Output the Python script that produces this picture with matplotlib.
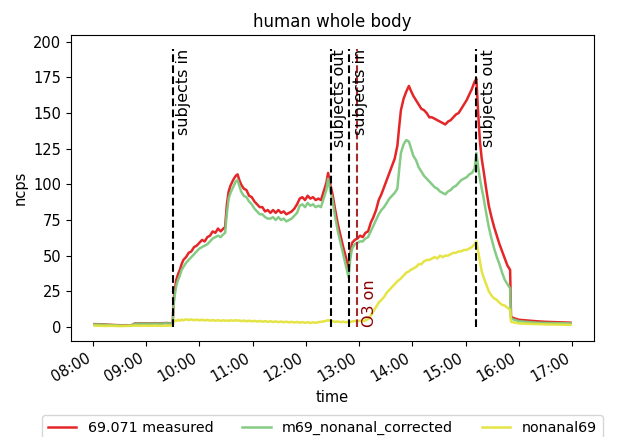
import numpy as np
import pandas as pd
import matplotlib
matplotlib.use('Agg')
import matplotlib.pyplot as plt
import matplotlib.dates as mdates

# minutes after 08:00
minutes = [2, 8, 14, 20, 26, 32, 38, 44, 47, 52, 58, 64, 70, 76, 82, 88, 90,
           91, 92, 94, 96, 98, 100, 102, 105, 108, 111, 114, 117, 120, 123, 126, 129,
           132, 135, 138, 141, 144, 147, 149,
           151, 153, 155, 158, 161, 163, 165, 167, 170, 173, 176, 179, 182, 185, 188,
           191, 194, 197, 200, 203, 206, 209, 212, 215, 218, 221, 224, 227, 230, 233,
           236, 239, 242, 245, 248, 251, 254, 257, 260, 263, 265, 267, 270, 273, 276,
           279, 282, 285, 288, 290, 292, 295, 298, 301, 304, 307, 310, 313, 316, 319,
           322, 325, 328, 331, 334, 337, 340, 343, 345, 347, 350, 353, 356, 358, 361,
           364, 367, 370, 373, 376, 379, 382, 385, 388, 391, 394, 397, 400, 403, 406,
           409, 412, 415, 418, 421, 424, 427, 430, 432, 434, 436, 438, 440, 443, 446,
           449, 452, 455, 458, 461, 464, 467, 470, 471, 475, 480, 490, 500, 510, 520,
           530, 538]

measured = [2.0, 1.9, 1.7, 1.5, 1.3, 1.2, 1.1, 1.3, 2.4, 2.5, 2.6, 2.4, 2.7, 2.5, 2.8, 2.6, 3.0,
            18, 25, 33, 37, 40, 44, 47, 49, 52, 53, 56, 57, 59, 61, 60, 63,
            64, 67, 66, 69, 67, 69, 70,
            86, 95, 99, 103, 106, 107, 103, 100, 97, 96, 92, 91, 88, 86, 84,
            84, 81, 82, 80, 82, 80, 82, 80, 81, 79, 80, 81, 83, 86, 90,
            91, 89, 92, 90, 91, 89, 90, 89, 95, 101, 108, 101, 93, 82, 72,
            64, 56, 49, 41, 52, 59, 61, 62, 64, 63, 66, 67, 73, 77, 82,
            89, 93, 98, 103, 108, 113, 118, 127, 140, 152, 160, 165, 169, 166, 162,
            159, 156, 153, 152, 150, 147, 147, 146, 145, 144, 143, 142, 144, 145, 147,
            149, 150, 153, 156, 159, 163, 167, 172, 174, 150, 130, 118, 110, 97, 85,
            77, 70, 64, 58, 53, 48, 43, 40, 7, 6, 5, 4.5, 4, 3.6, 3.4,
            3.2, 3.0]

corrected = [1.8, 1.7, 1.5, 1.3, 1.1, 1.0, 0.9, 1.1, 2.2, 2.3, 2.4, 2.2, 2.5, 2.3, 2.6, 2.4, 2.8,
             15, 21, 29, 33, 36, 40, 42, 45, 47, 49, 51, 53, 55, 56, 57, 58,
             60, 62, 63, 64, 63, 65, 66,
             80, 90, 94, 98, 102, 103, 99, 95, 92, 91, 88, 86, 83, 81, 79,
             79, 77, 76, 76, 77, 75, 77, 75, 76, 74, 75, 76, 78, 80, 85,
             86, 84, 87, 85, 86, 84, 85, 84, 90, 96, 104, 97, 89, 77, 67,
             59, 51, 43, 35, 48, 55, 58, 59, 60, 60, 62, 63, 67, 71, 75,
             79, 82, 84, 87, 90, 92, 94, 97, 110, 122, 128, 131, 130, 126, 120,
             117, 112, 109, 106, 104, 102, 100, 98, 97, 95, 94, 93, 95, 96, 98,
             99, 101, 103, 104, 105, 107, 108, 111, 122, 112, 104, 97, 91, 80, 70,
             62, 55, 49, 44, 38, 33, 30, 27, 6, 5, 4, 3.5, 3, 2.8, 2.7,
             2.6, 2.5]

nonanal = [0.9, 0.8, 0.7, 0.8, 0.7, 0.6, 0.7, 0.8, 0.9, 0.8, 0.9, 0.8, 0.9, 0.8, 0.9, 1.0, 1.0,
           4.0, 4.6, 4.2, 5.0, 4.4, 5.2, 4.6, 5.4, 4.8, 5.3, 4.7, 5.2, 4.6, 5.1, 4.5, 5.0,
           4.4, 4.9, 4.3, 4.8, 4.2, 4.7, 4.3,
           4.6, 4.2, 4.7, 4.3, 4.8, 4.4, 4.6, 4.1, 4.5, 4.0, 4.4, 3.9, 4.3, 3.8, 4.2,
           3.7, 4.1, 3.6, 4.0, 3.5, 3.9, 3.4, 3.8, 3.3, 3.7, 3.2, 3.6, 3.1, 3.5, 3.0,
           3.4, 2.9, 3.3, 2.8, 3.3, 2.9, 3.4, 3.6, 3.9, 4.3, 4.8, 4.4, 4.0, 3.6, 3.8,
           3.4, 3.7, 3.3, 3.6, 3.4, 3.8, 4.2, 3.9, 4.4, 4.0, 4.6, 5.5, 8, 11, 14,
           17, 19, 21, 24, 26, 28, 30, 32, 33, 34, 36, 38, 39, 40, 41,
           42, 44, 44, 46, 47, 47, 48, 49, 48, 50, 49, 50, 50, 51, 52,
           52, 53, 53, 54, 54, 55, 56, 58, 60, 53, 46, 39, 35, 30, 25,
           22, 20, 19, 17, 15.5, 15, 13.5, 12, 3.7, 3.0, 2.5, 2.2, 2.0, 1.8, 1.7,
           1.6, 1.5]

event_times = ['09:30', '12:28', '12:48', '15:12']
event_labels = ['subjects in', 'subjects out', 'subjects in', 'subjects out']
ozone_time = '12:58'
ozone_label = 'O3 on'


def to_datetime(hhmm):
    return pd.Timestamp('2023-01-01 ' + hhmm)


def plot_data():
    t0 = pd.Timestamp('2023-01-01 08:00')
    times = [t0 + pd.Timedelta(minutes=m) for m in minutes]

    plt.rcParams['font.size'] = 10.5
    fig, ax = plt.subplots(figsize=(6.21, 4.37), dpi=100)
    fig.subplots_adjust(left=0.114, right=0.957, top=0.92, bottom=0.22)

    ax.plot(times, measured, color='#e41a1c', lw=1.8, alpha=0.95, label='69.071 measured')
    ax.plot(times, corrected, color='#7fc97f', lw=1.8, alpha=0.95, label='m69_nonanal_corrected')
    ax.plot(times, nonanal, color='#e3e33c', lw=1.8, alpha=0.95, label='nonanal69')

    offsets = [4, 1, 5, 5]
    for t, lab, off in zip(event_times, event_labels, offsets):
        x = to_datetime(t)
        ax.vlines(x, 0, 195, colors='black', linestyles='--', lw=1.5)
        ax.text(x + pd.Timedelta(minutes=off), 195, lab, rotation=90,
                ha='left', va='top', fontsize=11.5)

    x = to_datetime(ozone_time)
    ax.vlines(x, 0, 195, colors='brown', linestyles='--', lw=1.5)
    ax.text(x + pd.Timedelta(minutes=5), 0, ozone_label, rotation=90,
            ha='left', va='bottom', fontsize=11.5, color='darkred')

    ax.xaxis.set_major_locator(mdates.HourLocator())
    ax.xaxis.set_major_formatter(mdates.DateFormatter('%H:%M'))
    plt.setp(ax.get_xticklabels(), rotation=30, ha='right')

    ax.set_title('human whole body', fontsize=12)
    ax.set_xlabel('time')
    ax.set_ylabel('ncps')
    ax.legend(loc='upper left', bbox_to_anchor=(42 / 621, 22 / 437),
              bbox_transform=fig.transFigure, borderaxespad=0, ncol=3, fontsize=10.3)

    fig.savefig('out.png', dpi=100)


if __name__ == "__main__":
    plot_data()
